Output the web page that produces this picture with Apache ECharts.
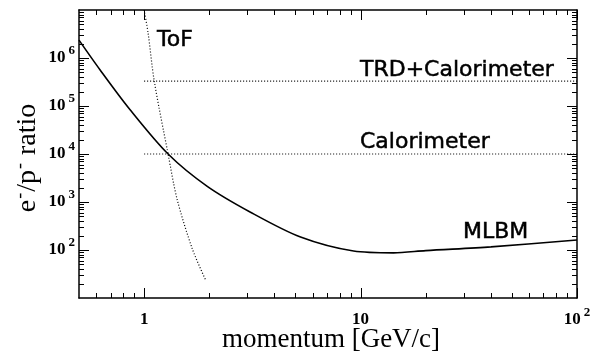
<!DOCTYPE html>
<html>
<head>
<meta charset="utf-8">
<script src="https://cdn.jsdelivr.net/npm/echarts@6/dist/echarts.min.js"></script>
<style>html,body{margin:0;padding:0;background:#fff;}#c{width:594px;height:356px;}</style>
</head>
<body>
<div id="c"></div>
<script>
// ---- data ----
const momentum = [0.5, 0.626, 0.861, 1.29, 1.957, 3.10, 5.28, 9.28, 14.2, 20, 40, 100];
const mlbmRatio = [2.36e6, 5.64e5, 8.36e4, 1.0e4, 2120, 613, 186, 95, 87, 97, 116, 161];
const tofMomentum = [1.0, 1.043, 1.113, 1.29, 1.42, 1.67, 1.92];
const tofRatio = [1e7, 3.3e6, 3.34e5, 1.0e4, 1140, 105, 24];
const lineMomentum = [1, 100];
const trdRatio = 3.3e5;
const caloRatio = 1e4;
const xMajorTicks = [1, 10, 100];
const xTickLabels = ['{b|1}', '{b|10}', '{b|10}{s|2}'];
const yMajorTicks = [100, 1e3, 1e4, 1e5, 1e6];
const yTickLabels = ['{b|10}{s|2}', '{b|10}{s|3}', '{b|10}{s|4}', '{b|10}{s|5}', '{b|10}{s|6}'];
const xMinorTicks = [0.6, 0.7, 0.8, 0.9, 2, 3, 4, 5, 6, 7, 8, 9, 20, 30, 40, 50, 60, 70, 80, 90];
const yMinorTicks = [];
[10, 100, 1e3, 1e4, 1e5, 1e6].forEach(function (d) { for (let k = 2; k <= 9; k++) yMinorTicks.push(k * d); });
const xRange = [0.5, 100];
const yRange = [10, 1e7];

const labelRich = {
  b: { font: 'bold 17px "Liberation Serif"', lineHeight: 27, fill: '#000' },
  s: { font: 'bold 13px "Liberation Serif"', lineHeight: 13, padding: [0, 0, 14, 3], fill: '#000' }
};

const tickStyle = { stroke: '#000', lineWidth: 1 };
function makeXTick(len) {
  return function (params, api) {
    const cs = params.coordSys;
    const px = Math.round(api.coord([api.value(0), yRange[0]])[0]) + 0.5;
    return { type: 'group', children: [
      { type: 'line', shape: { x1: px, y1: cs.y + cs.height, x2: px, y2: cs.y + cs.height - len }, style: tickStyle },
      { type: 'line', shape: { x1: px, y1: cs.y, x2: px, y2: cs.y + len }, style: tickStyle }
    ]};
  };
}
function makeYTick(len) {
  return function (params, api) {
    const cs = params.coordSys;
    const py = Math.round(api.coord([xRange[0], api.value(1)])[1]) + 0.5;
    return { type: 'group', children: [
      { type: 'line', shape: { x1: cs.x, y1: py, x2: cs.x + len, y2: py }, style: tickStyle },
      { type: 'line', shape: { x1: cs.x + cs.width, y1: py, x2: cs.x + cs.width - len, y2: py }, style: tickStyle }
    ]};
  };
}
function xLabelRender(params, api) {
  const cs = params.coordSys;
  const px = api.coord([api.value(0), yRange[0]])[0];
  return { type: 'text', x: px, y: cs.y + cs.height + 8,
    style: { text: xTickLabels[params.dataIndex], rich: labelRich, align: 'center', verticalAlign: 'top' } };
}
function yLabelRender(params, api) {
  const cs = params.coordSys;
  const py = api.coord([xRange[0], api.value(1)])[1];
  return { type: 'text', x: cs.x - 4, y: py,
    style: { text: yTickLabels[params.dataIndex], rich: labelRich, align: 'right', verticalAlign: 'middle' } };
}

const axisLine = { show: true, lineStyle: { color: '#000', width: 1.5 } };
function axis(pos, range) {
  return { type: 'log', logBase: 10, min: range[0], max: range[1], position: pos,
    axisLine: axisLine, axisTick: { show: false }, splitLine: { show: false }, axisLabel: { show: false } };
}

const chart = echarts.init(document.getElementById('c'), null, { renderer: 'canvas' });
chart.setOption({
  animation: false,
  backgroundColor: '#fff',
  grid: { left: 79, right: 17, top: 10, bottom: 58 },
  xAxis: [axis('bottom', xRange), axis('top', xRange)],
  yAxis: [axis('left', yRange), axis('right', yRange)],
  series: [
    { type: 'custom', xAxisIndex: 0, yAxisIndex: 0, renderItem: makeXTick(5), clip: false, silent: true,
      data: xMinorTicks.map(function (v) { return [v, yRange[0]]; }) },
    { type: 'custom', xAxisIndex: 0, yAxisIndex: 0, renderItem: makeYTick(5), clip: false, silent: true,
      data: yMinorTicks.map(function (v) { return [xRange[0], v]; }) },
    { type: 'custom', xAxisIndex: 0, yAxisIndex: 0, renderItem: makeXTick(10), clip: false, silent: true,
      data: xMajorTicks.map(function (v) { return [v, yRange[0]]; }) },
    { type: 'custom', xAxisIndex: 0, yAxisIndex: 0, renderItem: makeYTick(10), clip: false, silent: true,
      data: yMajorTicks.map(function (v) { return [xRange[0], v]; }) },
    { type: 'custom', xAxisIndex: 0, yAxisIndex: 0, renderItem: xLabelRender, clip: false, silent: true,
      data: xMajorTicks.map(function (v) { return [v, yRange[0]]; }) },
    { type: 'custom', xAxisIndex: 0, yAxisIndex: 0, renderItem: yLabelRender, clip: false, silent: true,
      data: yMajorTicks.map(function (v) { return [xRange[0], v]; }) },
    { name: 'MLBM', type: 'line', xAxisIndex: 0, yAxisIndex: 0, showSymbol: false, smooth: 0.3,
      lineStyle: { color: '#000', width: 1.6 },
      data: momentum.map(function (m, i) { return [m, mlbmRatio[i]]; }) },
    { name: 'ToF', type: 'line', xAxisIndex: 0, yAxisIndex: 0, showSymbol: false, smooth: 0.3,
      lineStyle: { color: '#000', width: 1.2, type: [1, 2] },
      data: tofMomentum.map(function (m, i) { return [m, tofRatio[i]]; }) },
    { name: 'TRD+Calorimeter', type: 'line', xAxisIndex: 0, yAxisIndex: 0, showSymbol: false,
      lineStyle: { color: '#000', width: 1.2, type: [1, 2] },
      data: lineMomentum.map(function (m) { return [m, trdRatio]; }) },
    { name: 'Calorimeter', type: 'line', xAxisIndex: 0, yAxisIndex: 0, showSymbol: false,
      lineStyle: { color: '#000', width: 1.2, type: [1, 2] },
      data: lineMomentum.map(function (m) { return [m, caloRatio]; }) }
  ],
  graphic: [
    { type: 'text', x: 157, y: 40, style: { text: 'ToF', font: '22px "DejaVu Sans"', fill: '#000', verticalAlign: 'middle', stroke: '#000', lineWidth: 0.5 } },
    { type: 'text', x: 360, y: 70, style: { text: 'TRD+Calorimeter', font: '22px "DejaVu Sans"', fill: '#000', verticalAlign: 'middle', stroke: '#000', lineWidth: 0.5 } },
    { type: 'text', x: 360, y: 142, style: { text: 'Calorimeter', font: '22px "DejaVu Sans"', fill: '#000', verticalAlign: 'middle', stroke: '#000', lineWidth: 0.5 } },
    { type: 'text', x: 463, y: 232, style: { text: 'MLBM', font: '22px "DejaVu Sans"', fill: '#000', verticalAlign: 'middle', stroke: '#000', lineWidth: 0.5 } },
    { type: 'text', x: 331, y: 340, style: { text: 'momentum [GeV/c]', font: '27px "Liberation Serif"', fill: '#000', align: 'center', verticalAlign: 'middle' } },
    { type: 'text', x: 28, y: 158, rotation: Math.PI / 2,
      style: { text: '{n|e}{s|-}{n|/p}{s|-}{n| ratio}', align: 'center', verticalAlign: 'middle',
        rich: {
          n: { fontFamily: 'Liberation Serif', fontSize: 28, lineHeight: 34, fill: '#000' },
          s: { fontFamily: 'Liberation Serif', fontSize: 18, lineHeight: 18, padding: [0, 1, 16, 1], fill: '#000' }
        } } }
  ]
});
</script>
</body>
</html>
